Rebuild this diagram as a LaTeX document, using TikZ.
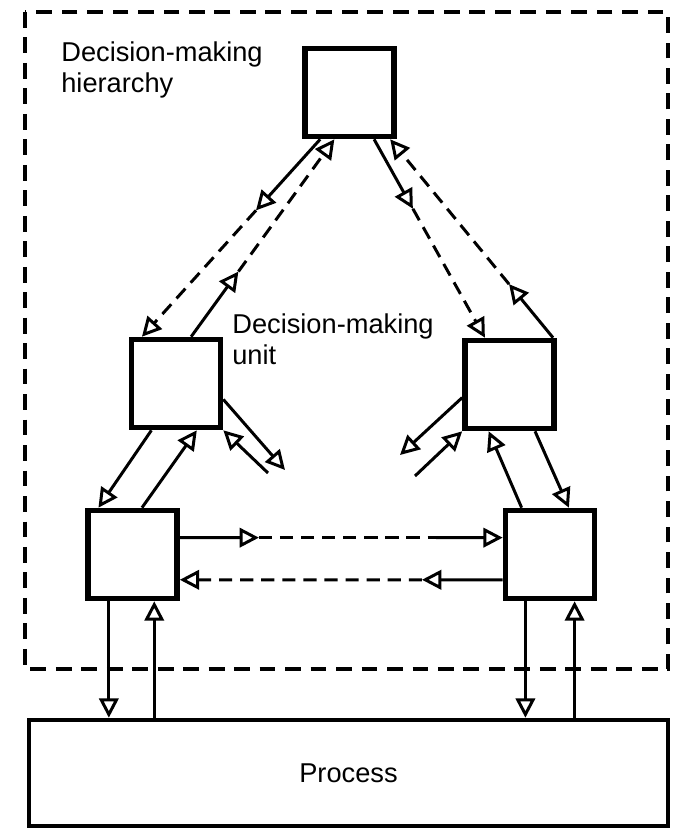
\documentclass[tikz,border=0pt]{standalone}
\usepackage{fontspec}
\setmainfont{Liberation Sans}
\usetikzlibrary{arrows.meta,calc}

\tikzset{
  unitbox/.style={draw, line width=3.2pt, minimum width=1.78cm, minimum height=1.76cm, inner sep=0pt},
  link/.style={line width=1.7pt, line join=miter, -{Triangle[open,length=11pt,width=11pt]}},
  plainseg/.style={line width=1.7pt},
  dashseg/.style={plainseg, dash pattern=on 7.5pt off 4.5pt},
  dashlink/.style={link, dash pattern=on 7.5pt off 4.5pt},
  frame/.style={line width=2pt, dash pattern=on 9pt off 5.5pt},
  lblfont/.style={font=\fontsize{15.5}{17.6}\selectfont},
  lbl/.style={lblfont, align=left, inner sep=0pt, anchor=north west},
}

\begin{document}
\begin{tikzpicture}[x=0.02cm,y=-0.02cm]
\useasboundingbox (0,0) rectangle (679,828);

% dashed frame of the hierarchy
\draw[frame] (25,12) rectangle (668,669);

% decision-making units
\node[unitbox] (T)  at (349.5,92.5) {};
\node[unitbox] (ML) at (176,383.5) {};
\node[unitbox] (MR) at (509.5,384.5) {};
\node[unitbox] (BL) at (132.5,554.5) {};
\node[unitbox] (BR) at (550,554.5) {};

% process
\node[draw, line width=2.6pt, minimum width=12.78cm, minimum height=2.12cm, lblfont] (P) at (348.5,773) {Process};

% labels
\node[lbl] (hier) at (61,41) {Decision-making\\hierarchy};
\node[lbl] (unitlbl) at (232,313) {Decision-making\\unit};

% top unit <-> left middle unit
\coordinate (t1) at ($(T.south west)!0.19!(T.south east)$);
\coordinate (l1) at ($(ML.north west)!0.14!(ML.north east)$);
\coordinate (m1) at ($(t1)!0.36!(l1)$);
\draw[link] (t1) -- (m1);
\draw[dashlink] (m1) -- (l1);

\coordinate (l2) at ($(ML.north west)!0.66!(ML.north east)$);
\coordinate (t2) at ($(T.south west)!0.34!(T.south east)$);
\coordinate (m2) at ($(l2)!0.33!(t2)$);
\draw[link] (l2) -- (m2);
\draw[dashlink] (m2) -- (t2);

% top unit <-> right middle unit
\coordinate (t3) at ($(T.south west)!0.76!(T.south east)$);
\coordinate (r3) at ($(MR.north west)!0.24!(MR.north east)$);
\coordinate (m3) at ($(t3)!0.35!(r3)$);
\draw[link] (t3) -- (m3);
\draw[dashlink] (m3) -- (r3);

\coordinate (r4) at ($(MR.north west)!0.96!(MR.north east)$);
\coordinate (t4) at ($(T.south west)!0.93!(T.south east)$);
\coordinate (m4) at ($(r4)!0.27!(t4)$);
\draw[link] (r4) -- (m4);
\draw[dashlink] (m4) -- (t4);

% middle units <-> bottom units
\draw[link] ($(ML.south west)!0.24!(ML.south east)$) -- ($(BL.north west)!0.14!(BL.north east)$);
\draw[link] ($(BL.north west)!0.6!(BL.north east)$) -- ($(ML.south west)!0.72!(ML.south east)$);
\draw[link] ($(MR.south west)!0.77!(MR.south east)$) -- ($(BR.north west)!0.70!(BR.north east)$);
\draw[link] ($(BR.north west)!0.2!(BR.north east)$) -- ($(MR.south west)!0.28!(MR.south east)$);

% links leaving the middle units sideways
\coordinate (a1) at ($(ML.north east)!0.67!(ML.south east)$);
\coordinate (xa) at (285,470);
\coordinate (xb) at (268,473);
\draw[link] (a1) -- (xa);
\draw[link] (xb) -- (ML.south east);

\coordinate (c1) at ($(MR.north west)!0.64!(MR.south west)$);
\coordinate (xc) at (400,455);
\coordinate (xd) at (415,476);
\draw[link] (c1) -- (xc);
\draw[link] (xd) -- (MR.south west);

% bottom units, horizontal exchange
\coordinate (h1) at ($(BL.north east)!0.32!(BL.south east)$);
\coordinate (h1e) at ($(BR.north west)!0.32!(BR.south west)$);
\coordinate (m5) at ($(h1)!0.245!(h1e)$);
\coordinate (m5b) at ($(h1)!0.794!(h1e)$);
\draw[link] (h1) -- (m5);
\draw[dashseg] (m5) -- (m5b);
\draw[link] (m5b) -- (h1e);

\coordinate (h2) at ($(BR.north west)!0.77!(BR.south west)$);
\coordinate (h2e) at ($(BL.north east)!0.77!(BL.south east)$);
\coordinate (m6) at ($(h2)!0.25!(h2e)$);
\draw[link] (h2) -- (m6);
\draw[dashlink] (m6) -- (h2e);

% bottom units <-> process
\coordinate (v1) at ($(BL.south west)!0.25!(BL.south east)$);
\coordinate (v2) at ($(BL.south west)!0.73!(BL.south east)$);
\coordinate (v3) at ($(BR.south west)!0.24!(BR.south east)$);
\coordinate (v4) at ($(BR.south west)!0.76!(BR.south east)$);
\draw[link] (v1) -- (v1 |- P.north);
\draw[link] (v2 |- P.north) -- (v2);
\draw[link] (v3) -- (v3 |- P.north);
\draw[link] (v4 |- P.north) -- (v4);
\end{tikzpicture}
\end{document}
